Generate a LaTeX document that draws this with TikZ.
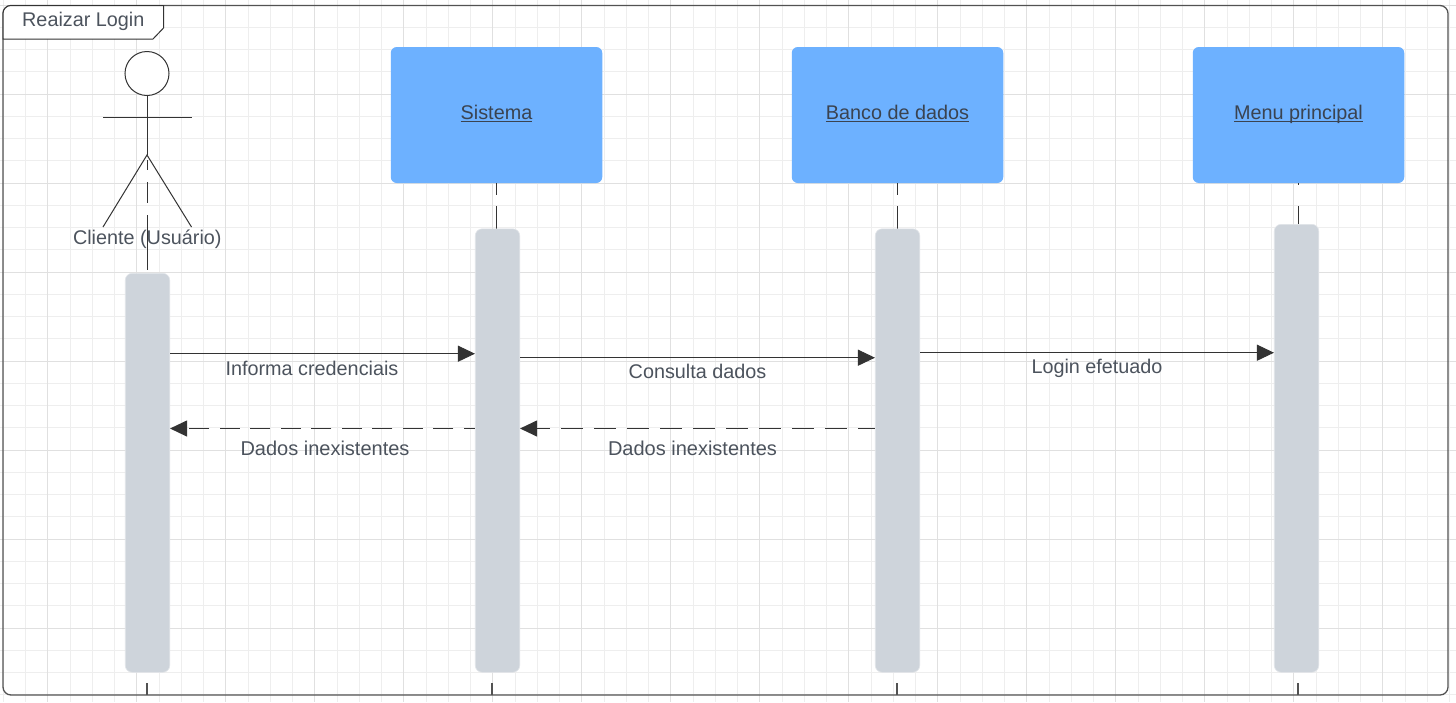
\documentclass[tikz,border=0pt]{standalone}
\usepackage{fontspec}
\setmainfont{Liberation Sans}
\usetikzlibrary{arrows.meta}
\definecolor{mytext}{HTML}{4C535D}
\definecolor{mydark}{HTML}{3A4350}
\definecolor{myline}{HTML}{333333}
\definecolor{myblue}{HTML}{6DB1FF}
\definecolor{mybar}{HTML}{CED4DB}
\definecolor{mygrid}{HTML}{EEEEEE}
\definecolor{mymajor}{HTML}{E0E0E0}
\newcommand{\objlabel}[1]{\setbox0=\hbox{#1}\rlap{\rule[-3.2pt]{\wd0}{1.4pt}}\box0}
\tikzset{
  every node/.style={font=\fontsize{19.8}{24}\selectfont,text=mytext,inner sep=0},
  objbox/.style={fill=myblue,rounded corners=6pt,minimum width=211.5pt,minimum height=136pt,text=mydark,text height=14pt,text depth=6pt},
  actbar/.style={fill=mybar,draw=mybar!60!white,line width=.6pt,rounded corners=7pt,minimum width=44.5pt,anchor=north},
  lifeline/.style={myline,line width=1pt},
  callmsg/.style={myline,line width=1pt,-{Triangle[length=17pt,width=16pt]}},
  backlbl/.style={font=\fontsize{20}{24}\selectfont}
}
\begin{document}
\begin{tikzpicture}[x=1pt,y=-1pt]
\useasboundingbox (0,0) rectangle (1456,702);
\fill[white] (0,0) rectangle (1456,702);
\foreach \k in {0,...,65} {\draw[mygrid,line width=.9pt] (3.25+22.25*\k,0) -- (3.25+22.25*\k,702);}
\foreach \k in {0,...,31} {\draw[mygrid,line width=.9pt] (0,5+22.25*\k) -- (1456,5+22.25*\k);}
\foreach \k in {0,...,15} {\draw[mymajor,line width=1pt] (47.5+89*\k,0) -- (47.5+89*\k,702);}
\foreach \k in {0,...,7} {\draw[mymajor,line width=1pt] (0,5+89*\k) -- (1456,5+89*\k);}
% frame
\draw[myline!85!white,line width=1.3pt,rounded corners=8pt] (3,5.5) rectangle (1448,695);
\draw[myline,line width=1pt,fill=white] (3,39) [rounded corners=8pt] -- (3,5.5) -- (30,5.5) [sharp corners] -- (163.5,5.5) -- (163.5,28) -- (153,39) -- cycle;
\node[anchor=west] (frameTitle) at (22,21) {Reaizar Login};
% objects
\node[objbox] (sistema) at (496.5,115) {\objlabel{Sistema}};
\node[objbox] (banco) at (897.5,115) {\objlabel{Banco de dados}};
\node[objbox] (menu) at (1298.5,115) {\objlabel{Menu principal}};
\coordinate (clienteFoot) at (147,155);
\coordinate (clienteStart) at (147,160);
% lifelines
\draw[lifeline,dash pattern=on 10pt off 12pt on 21pt off 12pt on 55pt] (clienteStart) -- (147,273);
\draw[lifeline,dash pattern=on 12pt off 11pt on 24pt] (sistema.south) -- (496.5,229);
\draw[lifeline,dash pattern=on 12pt off 11pt on 24pt] (banco.south) -- (897.5,229);
\draw[lifeline,dash pattern=on 2pt off 21pt on 20pt] (menu.south) -- (1298.5,224);
\foreach \x in {147,492,897,1298} {\draw[myline!85!white,line width=1.1pt] (\x,683) -- (\x,695);}
% actor
\node[circle,draw=myline,line width=1pt,fill=white,minimum size=44pt] (head) at (147,73.5) {};
\draw[myline,line width=1pt] (head.south) -- (clienteFoot);
\draw[myline,line width=1pt] (103,117.5) -- (191.5,117.5);
\draw[myline,line width=1pt] (103,227) -- (clienteFoot) -- (191.5,227);
\node (cliente) at (147.3,239) {Cliente (Usuário)};
% activations
\node[actbar,minimum height=399pt] (barCliente) at (147.5,273) {};
\node[actbar,minimum height=443.5pt] (barSistema) at (497.5,228.5) {};
\node[actbar,minimum height=443.5pt] (barBanco) at (897.5,228.5) {};
\node[actbar,minimum height=448pt] (barMenu) at (1296.5,224) {};
% messages
\coordinate (yInforma) at (0,353.7);
\coordinate (yConsulta) at (0,357.7);
\coordinate (yLogin) at (0,352.7);
\coordinate (yVolta) at (0,428.5);
\draw[callmsg] (barCliente.east |- yInforma) -- (barSistema.west |- yInforma);
\draw[callmsg] (barSistema.east |- yConsulta) -- (barBanco.west |- yConsulta);
\draw[callmsg] (barBanco.east |- yLogin) -- (barMenu.west |- yLogin);
\draw[callmsg,dash pattern=on 20pt off 10.5pt,dash phase=9pt] (barSistema.west |- yVolta) -- (barCliente.east |- yVolta);
\draw[callmsg,dash pattern=on 22pt off 11pt,dash phase=5pt] (barBanco.west |- yVolta) -- (barSistema.east |- yVolta);
\node (lblInforma) at (312,368) {Informa credenciais};
\node (lblConsulta) at (697.5,371.5) {Consulta dados};
\node (lblLogin) at (1097,368.5) {Login efetuado};
\node[backlbl] (lblVoltaA) at (325,448) {Dados inexistentes};
\node[backlbl] (lblVoltaB) at (692.5,448) {Dados inexistentes};
\end{tikzpicture}
\end{document}
